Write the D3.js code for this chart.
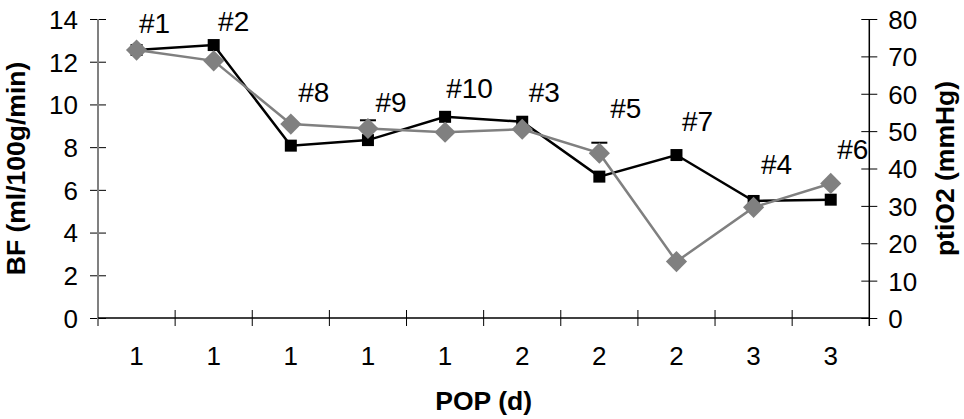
<!DOCTYPE html>
<html><head><meta charset="utf-8">
<script src="https://cdn.jsdelivr.net/npm/d3@7"></script>
<style>
body{margin:0;background:#fff}
svg{display:block}
text{font-family:"Liberation Sans",Arial,sans-serif;fill:#000}
</style>
</head><body>
<svg id="chart" width="964" height="419"></svg>
<script>
// ---- data ----
const categories   = ["1","1","1","1","1","2","2","2","3","3"];
const pointLabels  = ["#1","#2","#8","#9","#10","#3","#5","#7","#4","#6"];
const bfValues     = [12.55,12.78,8.07,8.33,9.42,9.19,6.62,7.63,5.48,5.54];
const ptio2Values  = [71.7,68.8,51.9,50.7,49.7,50.5,44.1,15.1,29.6,36.0];
const ptio2ErrUp   = [0,0,0,2.2,0,0,2.8,0,0,0];
const bfTicks      = [0,2,4,6,8,10,12,14];
const ptio2Ticks   = [0,10,20,30,40,50,60,70,80];

// ---- layout ----
const W = 964, H = 419;
const m = {left:98, right:94.7, top:19, bottom:101};
const x0 = m.left, x1 = W - m.right, y0 = H - m.bottom, y1 = m.top;
const labelDx = [-4,-2,1,1,2.4,0,4.5,-1,1,0];
const labelDy = [3,6,-2,3.5,1.3,0,-15,-4,-7,-4];

const svg = d3.select("#chart");
const idx = d3.range(categories.length);
const x = d3.scaleBand().domain(idx).range([x0, x1]).padding(0);
const yL = d3.scaleLinear().domain([0,14]).range([y0, y1]);
const yR = d3.scaleLinear().domain([0,80]).range([y0, y1]);
const cx = i => x(i) + x.bandwidth()/2;

// left axis
const gL = svg.append("g").attr("transform",`translate(${x0},0)`)
  .call(d3.axisLeft(yL).tickValues(bfTicks).tickSize(8).tickPadding(12).tickFormat(d3.format("d")));
gL.select(".domain").remove();
gL.selectAll(".tick line").attr("x1",-8).attr("x2",8).attr("stroke","#000").attr("stroke-width",1);
gL.selectAll(".tick text").attr("font-size",26).attr("font-family",null).attr("dy","0.36em");
svg.append("line").attr("x1",x0).attr("x2",x0).attr("y1",y1).attr("y2",y0+8)
  .attr("stroke","#808080").attr("stroke-width",2);

// right axis
const gR = svg.append("g").attr("transform",`translate(${x1},0)`)
  .call(d3.axisRight(yR).tickValues(ptio2Ticks).tickSize(8).tickPadding(11).tickFormat(d3.format("d")));
gR.select(".domain").remove();
gR.selectAll(".tick line").attr("x1",-8).attr("x2",8).attr("stroke","#000").attr("stroke-width",1);
gR.selectAll(".tick text").attr("font-size",26).attr("font-family",null).attr("dy","0.36em");
svg.append("line").attr("x1",x1).attr("x2",x1).attr("y1",y1).attr("y2",y0+8)
  .attr("stroke","#000").attr("stroke-width",1.5);

// x axis
svg.append("line").attr("x1",x0).attr("x2",x1).attr("y1",y0).attr("y2",y0)
  .attr("stroke","#000").attr("stroke-width",1.5);
svg.append("g").selectAll("line").data(d3.range(1,categories.length)).join("line")
  .attr("x1",d=>x(d)).attr("x2",d=>x(d)).attr("y1",y0-8).attr("y2",y0+8)
  .attr("stroke","#000").attr("stroke-width",1);
svg.append("g").selectAll("text").data(idx).join("text")
  .attr("x",cx).attr("y",y0+47).attr("text-anchor","middle").attr("font-size",26)
  .text(i=>categories[i]);

// titles
svg.append("text").attr("x",(x0+x1)/2).attr("y",410).attr("text-anchor","middle")
  .attr("font-size",26.5).attr("font-weight","bold").text("POP (d)");
svg.append("text").attr("transform",`translate(25,${(y0+y1)/2}) rotate(-90)`)
  .attr("text-anchor","middle").attr("font-size",26.5).attr("font-weight","bold").text("BF (ml/100g/min)");
svg.append("text").attr("transform",`translate(954,${(y0+y1)/2}) rotate(-90)`)
  .attr("text-anchor","middle").attr("font-size",26.5).attr("font-weight","bold").text("ptiO2 (mmHg)");

// BF series
svg.append("path").datum(idx)
  .attr("d", d3.line().x(cx).y(i=>yL(bfValues[i])))
  .attr("fill","none").attr("stroke","#000").attr("stroke-width",2.5);
svg.append("g").selectAll("path").data(idx).join("path")
  .attr("d", d3.symbol(d3.symbolSquare, 144)())
  .attr("transform", i=>`translate(${cx(i)},${yL(bfValues[i])})`)
  .attr("fill","#000");

// ptiO2 error bars
const errIdx = idx.filter(i=>ptio2ErrUp[i]>0);
const eg = svg.append("g").attr("stroke","#000").attr("stroke-width",2);
eg.selectAll("line.v").data(errIdx).join("line").attr("class","v")
  .attr("x1",cx).attr("x2",cx).attr("y1",i=>yR(ptio2Values[i])).attr("y2",i=>yR(ptio2Values[i]+ptio2ErrUp[i]));
eg.selectAll("line.c").data(errIdx).join("line").attr("class","c")
  .attr("x1",i=>cx(i)-8).attr("x2",i=>cx(i)+8)
  .attr("y1",i=>yR(ptio2Values[i]+ptio2ErrUp[i])).attr("y2",i=>yR(ptio2Values[i]+ptio2ErrUp[i]));

// ptiO2 series
svg.append("path").datum(idx)
  .attr("d", d3.line().x(cx).y(i=>yR(ptio2Values[i])))
  .attr("fill","none").attr("stroke","#808080").attr("stroke-width",2.5);
svg.append("g").selectAll("path").data(idx).join("path")
  .attr("d", d3.symbol(d3.symbolSquare, 225)())
  .attr("transform", i=>`translate(${cx(i)},${yR(ptio2Values[i])}) rotate(45)`)
  .attr("fill","#808080");

// point labels
svg.append("g").selectAll("text").data(idx).join("text")
  .attr("x", i=>cx(i)+22+labelDx[i])
  .attr("y", i=>Math.min(yL(bfValues[i]), yR(ptio2Values[i])) - 20 + labelDy[i])
  .attr("text-anchor","middle").attr("font-size",28)
  .text(i=>pointLabels[i]);
</script>
</body></html>
